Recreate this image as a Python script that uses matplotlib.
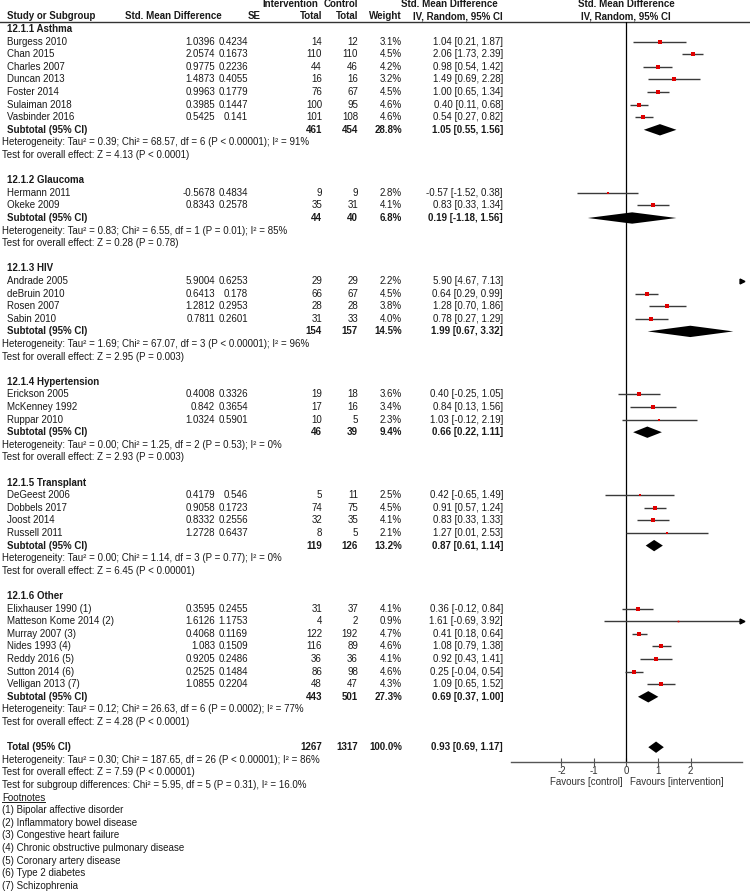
import numpy as np
import matplotlib.pyplot as plt

plt.rcParams['font.family'] = ['Liberation Sans', 'DejaVu Sans']

# ---- data ----
groups = ["12.1.1 Asthma", "12.1.2 Glaucoma", "12.1.3 HIV",
          "12.1.4 Hypertension", "12.1.5 Transplant", "12.1.6 Other"]
study_group = [0] * 7 + [1] * 2 + [2] * 4 + [3] * 3 + [4] * 4 + [5] * 7
studies = ["Burgess 2010", "Chan 2015", "Charles 2007", "Duncan 2013", "Foster 2014",
           "Sulaiman 2018", "Vasbinder 2016",
           "Hermann 2011", "Okeke 2009",
           "Andrade 2005", "deBruin 2010", "Rosen 2007", "Sabin 2010",
           "Erickson 2005", "McKenney 1992", "Ruppar 2010",
           "DeGeest 2006", "Dobbels 2017", "Joost 2014", "Russell 2011",
           "Elixhauser 1990 (1)", "Matteson Kome 2014 (2)", "Murray 2007 (3)",
           "Nides 1993 (4)", "Reddy 2016 (5)", "Sutton 2014 (6)", "Velligan 2013 (7)"]
smd = [1.0396, 2.0574, 0.9775, 1.4873, 0.9963, 0.3985, 0.5425,
       -0.5678, 0.8343,
       5.9004, 0.6413, 1.2812, 0.7811,
       0.4008, 0.842, 1.0324,
       0.4179, 0.9058, 0.8332, 1.2728,
       0.3595, 1.6126, 0.4068, 1.083, 0.9205, 0.2525, 1.0855]
se = [0.4234, 0.1673, 0.2236, 0.4055, 0.1779, 0.1447, 0.141,
      0.4834, 0.2578,
      0.6253, 0.178, 0.2953, 0.2601,
      0.3326, 0.3654, 0.5901,
      0.546, 0.1723, 0.2556, 0.6437,
      0.2455, 1.1753, 0.1169, 0.1509, 0.2486, 0.1484, 0.2204]
n_int = [14, 110, 44, 16, 76, 100, 101, 9, 35, 29, 66, 28, 31, 19, 17, 10,
         5, 74, 32, 8, 31, 4, 122, 116, 36, 86, 48]
n_ctl = [12, 110, 46, 16, 67, 95, 108, 9, 31, 29, 67, 28, 33, 18, 16, 5,
         11, 75, 35, 5, 37, 2, 192, 89, 36, 98, 47]
weight = [3.1, 4.5, 4.2, 3.2, 4.5, 4.6, 4.6, 2.8, 4.1, 2.2, 4.5, 3.8, 4.0,
          3.6, 3.4, 2.3, 2.5, 4.5, 4.1, 2.1, 4.1, 0.9, 4.7, 4.6, 4.1, 4.6, 4.3]
est = [1.04, 2.06, 0.98, 1.49, 1.00, 0.40, 0.54, -0.57, 0.83, 5.90, 0.64, 1.28, 0.78,
       0.40, 0.84, 1.03, 0.42, 0.91, 0.83, 1.27, 0.36, 1.61, 0.41, 1.08, 0.92, 0.25, 1.09]
lo = [0.21, 1.73, 0.54, 0.69, 0.65, 0.11, 0.27, -1.52, 0.33, 4.67, 0.29, 0.70, 0.27,
      -0.25, 0.13, -0.12, -0.65, 0.57, 0.33, 0.01, -0.12, -0.69, 0.18, 0.79, 0.43, -0.04, 0.65]
hi = [1.87, 2.39, 1.42, 2.28, 1.34, 0.68, 0.82, 0.38, 1.34, 7.13, 0.99, 1.86, 1.29,
      1.05, 1.56, 2.19, 1.49, 1.24, 1.33, 2.53, 0.84, 3.92, 0.64, 1.38, 1.41, 0.54, 1.52]

sub_int = [461, 44, 154, 46, 119, 443]
sub_ctl = [454, 40, 157, 39, 126, 501]
sub_w = [28.8, 6.8, 14.5, 9.4, 13.2, 27.3]
sub_est = [1.05, 0.19, 1.99, 0.66, 0.87, 0.69]
sub_lo = [0.55, -1.18, 0.67, 0.22, 0.61, 0.37]
sub_hi = [1.56, 1.56, 3.32, 1.11, 1.14, 1.00]
sub_het = ["Heterogeneity: Tau² = 0.39; Chi² = 68.57, df = 6 (P < 0.00001); I² = 91%",
           "Heterogeneity: Tau² = 0.83; Chi² = 6.55, df = 1 (P = 0.01); I² = 85%",
           "Heterogeneity: Tau² = 1.69; Chi² = 67.07, df = 3 (P < 0.00001); I² = 96%",
           "Heterogeneity: Tau² = 0.00; Chi² = 1.25, df = 2 (P = 0.53); I² = 0%",
           "Heterogeneity: Tau² = 0.00; Chi² = 1.14, df = 3 (P = 0.77); I² = 0%",
           "Heterogeneity: Tau² = 0.12; Chi² = 26.63, df = 6 (P = 0.0002); I² = 77%"]
sub_z = ["Test for overall effect: Z = 4.13 (P < 0.0001)",
         "Test for overall effect: Z = 0.28 (P = 0.78)",
         "Test for overall effect: Z = 2.95 (P = 0.003)",
         "Test for overall effect: Z = 2.93 (P = 0.003)",
         "Test for overall effect: Z = 6.45 (P < 0.00001)",
         "Test for overall effect: Z = 4.28 (P < 0.0001)"]

total_int, total_ctl, total_w = 1267, 1317, 100.0
total_est, total_lo, total_hi = 0.93, 0.69, 1.17
total_notes = ["Heterogeneity: Tau² = 0.30; Chi² = 187.65, df = 26 (P < 0.00001); I² = 86%",
               "Test for overall effect: Z = 7.59 (P < 0.00001)",
               "Test for subgroup differences: Chi² = 5.95, df = 5 (P = 0.31), I² = 16.0%"]
footnotes = ["(1) Bipolar affective disorder", "(2) Inflammatory bowel disease",
             "(3) Congestive heart failure", "(4) Chronic obstructive pulmonary disease",
             "(5) Coronary artery disease", "(6) Type 2 diabetes", "(7) Schizophrenia"]
ticks = [-2, -1, 0, 1, 2]

# ---- layout (pixels) ----
W, H = 750, 896
y0, pitch = 29, 12.6          # first row and row spacing
axis_y, top_y = 762, 22       # forest axis line / header rule
X_NAME, X_NOTE = 7, 2
X_SMD, X_SE, X_NI, X_NC, X_W, X_CI = 215, 248, 322, 358, 402, 503
FS = 7
TXT = '#1a1a1a'

fig = plt.figure(figsize=(W / 100, H / 100), dpi=100)
ax = fig.add_axes([0, 0, 1, 1])
ax.set_xlim(0, W)
ax.set_ylim(H, 0)
ax.axis('off')

fx = fig.add_axes([511 / W, 1 - axis_y / H, 231 / W, (axis_y - top_y) / H])
fx.set_xlim(-3.56, 3.59)
fx.set_ylim(axis_y, top_y)
fx.patch.set_alpha(0)
for s in ['left', 'right', 'top']:
    fx.spines[s].set_visible(False)
fx.spines['bottom'].set_color('#555555')
fx.spines['bottom'].set_linewidth(1)
fx.set_yticks([])
fx.set_xticks(ticks)
fx.set_xticklabels([str(t) for t in ticks], fontsize=FS)
fx.tick_params(axis='x', direction='inout', length=6, width=0.8, pad=0, colors='#555555')
for lab in fx.get_xticklabels():
    lab.set_color('#333333')
fx.axvline(0, color='black', lw=0.9)
xmin, xmax = fx.get_xlim()


def row_y(r):
    return y0 + r * pitch


def put(x, y, s, ha='left', bold=False):
    ax.text(x, y, s, ha=ha, va='center', fontsize=FS, color=TXT,
            fontweight='bold' if bold else 'normal')


def ci_text(e, l, h):
    return f"{e:.2f} [{l:.2f}, {h:.2f}]"


def diamond(y, e, l, h):
    d = 0.45 * pitch
    fx.fill([l, e, h, e], [y, y - d, y, y + d], color='black', lw=0)


# header
put(318, row_y(-2), "Intervention", ha='right', bold=True)
put(358, row_y(-2), "Control", ha='right', bold=True)
put(498, row_y(-2), "Std. Mean Difference", ha='right', bold=True)
put(X_NAME, row_y(-1), "Study or Subgroup", bold=True)
put(222, row_y(-1), "Std. Mean Difference", ha='right', bold=True)
put(261, row_y(-1), "SE", ha='right', bold=True)
put(X_NI, row_y(-1), "Total", ha='right', bold=True)
put(X_NC, row_y(-1), "Total", ha='right', bold=True)
put(X_W, row_y(-1), "Weight", ha='right', bold=True)
put(X_CI, row_y(-1), "IV, Random, 95% CI", ha='right', bold=True)
fx.text(0, row_y(-2), "Std. Mean Difference", ha='center', va='center', fontsize=FS,
        color=TXT, fontweight='bold', clip_on=False)
fx.text(0, row_y(-1), "IV, Random, 95% CI", ha='center', va='center', fontsize=FS,
        color=TXT, fontweight='bold', clip_on=False)
ax.plot([0, W], [top_y, top_y], color='#333333', lw=1)

# subgroups
r = 0
for g, gname in enumerate(groups):
    put(X_NAME, row_y(r), gname, bold=True)
    r += 1
    for i in [k for k in range(len(studies)) if study_group[k] == g]:
        y = row_y(r)
        put(X_NAME, y, studies[i])
        put(X_SMD, y, str(smd[i]), ha='right')
        put(X_SE, y, str(se[i]), ha='right')
        put(X_NI, y, str(n_int[i]), ha='right')
        put(X_NC, y, str(n_ctl[i]), ha='right')
        put(X_W, y, f"{weight[i]:.1f}%", ha='right')
        put(X_CI, y, ci_text(est[i], lo[i], hi[i]), ha='right')
        # CI line, clipped to the scale with an arrow
        a, b = max(lo[i], xmin), min(hi[i], xmax)
        if a < b:
            fx.plot([a, b], [y, y], color='#3a3a3a', lw=1, solid_capstyle='butt')
        if hi[i] > xmax:
            fx.plot([xmax], [y], marker='>', color='black', ms=3.5, clip_on=False)
        if xmin <= est[i] <= xmax:
            fx.plot([est[i]], [y], marker='s', color='#e00000', lw=0,
                    ms=1.25 * np.sqrt(weight[i]), mew=0)
        r += 1
    y = row_y(r)
    put(X_NAME, y, "Subtotal (95% CI)", bold=True)
    put(X_NI, y, str(sub_int[g]), ha='right', bold=True)
    put(X_NC, y, str(sub_ctl[g]), ha='right', bold=True)
    put(X_W, y, f"{sub_w[g]:.1f}%", ha='right', bold=True)
    put(X_CI, y, ci_text(sub_est[g], sub_lo[g], sub_hi[g]), ha='right', bold=True)
    diamond(y, sub_est[g], sub_lo[g], sub_hi[g])
    r += 1
    put(X_NOTE, row_y(r), sub_het[g])
    r += 1
    put(X_NOTE, row_y(r), sub_z[g])
    r += 2

# overall
y = row_y(r)
put(X_NAME, y, "Total (95% CI)", bold=True)
put(X_NI, y, str(total_int), ha='right', bold=True)
put(X_NC, y, str(total_ctl), ha='right', bold=True)
put(X_W, y, f"{total_w:.1f}%", ha='right', bold=True)
put(X_CI, y, ci_text(total_est, total_lo, total_hi), ha='right', bold=True)
diamond(y, total_est, total_lo, total_hi)
r += 1
for note in total_notes:
    put(X_NOTE, row_y(r), note)
    r += 1

# footnotes
ft = ax.text(X_NOTE, row_y(r), "Footnotes", ha='left', va='center', fontsize=FS, color=TXT)
fig.canvas.draw()
bb = ft.get_window_extent().transformed(ax.transData.inverted())
ax.plot([bb.x0, bb.x1], [max(bb.y0, bb.y1) - 1, max(bb.y0, bb.y1) - 1], color=TXT, lw=0.7)
r += 1
for note in footnotes:
    put(X_NOTE, row_y(r), note)
    r += 1

# favours labels under the axis
fx.text(-0.12, 782, "Favours [control]", ha='right', va='center', fontsize=FS,
        color='#333333', clip_on=False)
fx.text(0.12, 782, "Favours [intervention]", ha='left', va='center', fontsize=FS,
        color='#333333', clip_on=False)

fig.savefig("out.png", dpi=100, facecolor='white')
